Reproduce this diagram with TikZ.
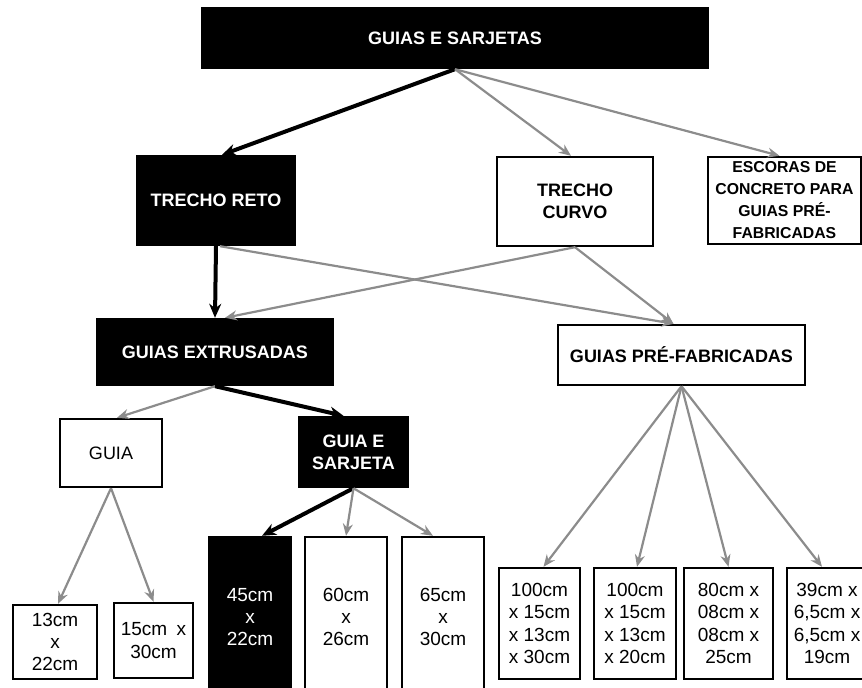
\documentclass[tikz,border=0pt]{standalone}
\usepackage{fontspec}
\setmainfont{Liberation Sans}
\usetikzlibrary{arrows.meta}
\definecolor{cinza}{RGB}{140,140,140}
\tikzset{
  caixa/.style={draw, line width=1.2pt, align=center, inner sep=0pt, font=\bfseries\fontsize{9}{11}\selectfont},
  preta/.style={caixa, fill=black, text=white},
  medida/.style={caixa, font=\fontsize{9.5}{11.2}\selectfont},
  seta/.style={draw=cinza, line width=1.1pt, -{Stealth[length=6pt,width=5pt]}},
  setaforte/.style={draw=black, line width=2pt, -{Stealth[length=7pt,width=6pt]}}
}
\begin{document}
\begin{tikzpicture}[x=0.5pt, y=-0.5pt]
  \useasboundingbox (0,0) rectangle (862,688);

  % Caixas de cima
  \node[preta, minimum width=253pt, minimum height=30pt] (topo) at (455,38) {GUIAS E SARJETAS};
  \node[preta, minimum width=79pt, minimum height=44.5pt] (reto) at (216,200.5) {TRECHO RETO};
  \node[caixa, minimum width=78pt, minimum height=44.5pt] (curvo) at (575,201.5) {TRECHO\\CURVO};
  \node[caixa, font=\bfseries\fontsize{7.9}{11}\selectfont, minimum width=76.5pt, minimum height=43.5pt] (escoras) at (784.5,200.5)
    {ESCORAS DE\\CONCRETO PARA\\GUIAS PRÉ-\\FABRICADAS};

  % Tipos de guia
  \node[preta, minimum width=118pt, minimum height=33pt] (extr) at (215,352) {GUIAS EXTRUSADAS};
  \node[caixa, minimum width=123.5pt, minimum height=30pt] (prefab) at (681.5,355) {GUIAS PRÉ-FABRICADAS};
  \node[caixa, font=\fontsize{9}{11}\selectfont, minimum width=51pt, minimum height=34pt] (guia) at (111,453) {GUIA};
  \node[preta, minimum width=54.5pt, minimum height=35pt] (guiasarj) at (353.5,452) {GUIA E\\SARJETA};

  % Medidas
  \node[medida, minimum width=42pt, minimum height=37pt] (m13) at (55,642) {13cm\\x\\22cm};
  \node[medida, minimum width=39.5pt, minimum height=37.5pt] (m15) at (153.5,640.5) {15cm\enspace x\\30cm};
  \node[medida, fill=black, text=white, minimum width=41pt, minimum height=80pt] (m45) at (250,617) {45cm\\x\\22cm};
  \node[medida, minimum width=41pt, minimum height=80pt] (m60) at (346,617) {60cm\\x\\26cm};
  \node[medida, minimum width=41pt, minimum height=80pt] (m65) at (443,617) {65cm\\x\\30cm};
  \node[medida, minimum width=40.5pt, minimum height=55.5pt] (p1) at (539.5,623.5) {100cm\\x 15cm\\x 13cm\\x 30cm};
  \node[medida, minimum width=41pt, minimum height=55.5pt] (p2) at (635,623.5) {100cm\\x 15cm\\x 13cm\\x 20cm};
  \node[medida, minimum width=44.5pt, minimum height=55.5pt] (p3) at (728.5,623.5) {80cm x\\08cm x\\08cm x\\25cm};
  \node[medida, minimum width=40pt, minimum height=55.5pt] (p4) at (827,623.5) {39cm x\\6,5cm x\\6,5cm x\\19cm};

  % Ligacoes
  \draw[setaforte] (topo.south) -- ([xshift=3pt]reto.north);
  \draw[seta] (topo.south) -- ([xshift=-2pt]curvo.north);
  \draw[seta] (topo.south) -- ([xshift=-2.5pt]escoras.north);
  \draw[setaforte] (reto.south) -- (extr.north);
  \draw[seta] ([xshift=2pt]reto.south) -- ([xshift=-4pt]prefab.north);
  \draw[seta] (curvo.south) -- ([xshift=5pt]extr.north);
  \draw[seta] (curvo.south) -- ([xshift=-4pt]prefab.north);
  \draw[seta] (extr.south) -- ([xshift=3pt]guia.north);
  \draw[setaforte] (extr.south) -- ([xshift=-5pt]guiasarj.north);
  \draw[seta] (guia.south) -- ([xshift=1.5pt]m13.north);
  \draw[seta] (guia.south) -- (m15.north);
  \draw[setaforte] (guiasarj.south) -- ([xshift=6pt]m45.north);
  \draw[seta] (guiasarj.south) -- (m60.north);
  \draw[seta] (guiasarj.south) -- ([xshift=-5pt]m65.north);
  \foreach \alvo/\desl in {p1/2pt, p2/1pt, p3/0pt, p4/-2.5pt}
    \draw[seta] (prefab.south) -- ([xshift=\desl]\alvo.north);
\end{tikzpicture}
\end{document}
